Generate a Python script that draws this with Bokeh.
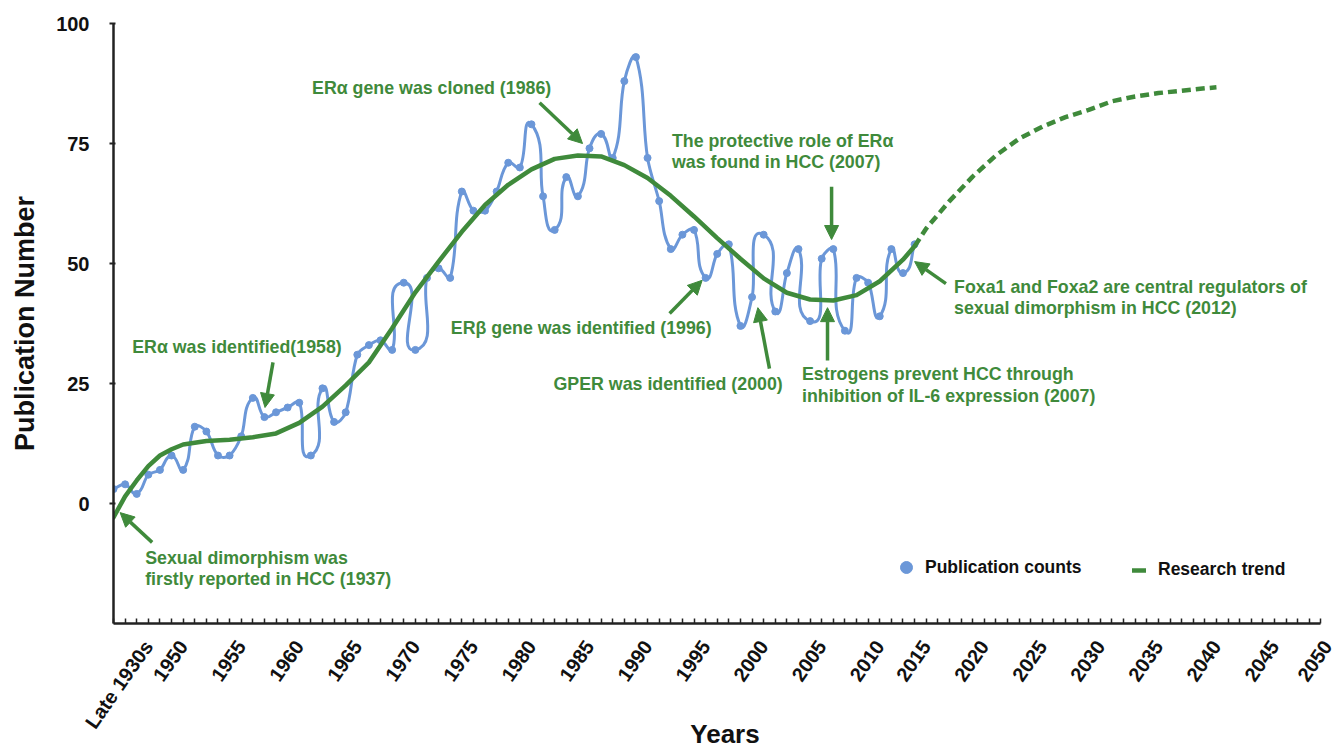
import math
from bokeh.plotting import figure
from bokeh.models import (Range1d, FixedTicker, LinearAxis, Label, Arrow, NormalHead,
                          Legend, LegendItem, ColumnDataSource)
from bokeh.embed import file_html
from bokeh.resources import INLINE

# ---------------- data ----------------
pub_index = list(range(70))
pub_counts = [3, 4, 2, 6, 7, 10, 7, 16, 15, 10,
              10, 14, 22, 18, 19, 20, 21, 10, 24, 17,
              19, 31, 33, 34, 32, 46, 32, 47, 49, 47,
              65, 61, 61, 65, 71, 70, 79, 64, 57, 68,
              64, 74, 77, 72, 88, 93, 72, 63, 53, 56,
              57, 47, 52, 54, 37, 43, 56, 40, 48, 53,
              38, 51, 53, 36, 47, 46, 39, 53, 48, 54]

trend_index = [0, 1, 2, 3, 4, 5, 6, 8, 10, 12, 14, 16, 18, 20, 22, 24, 26, 28, 30, 32,
               34, 36, 38, 40, 42, 44, 46, 48, 50, 52, 54, 56, 58, 60, 62, 64, 66, 68, 69]
trend_values = [-2.9, 1.5, 4.8, 7.8, 10.0, 11.3, 12.3, 13.0, 13.3, 13.8, 14.6, 16.8, 20.2,
                24.6, 29.4, 36.5, 44.0, 50.4, 56.6, 62.2, 66.4, 69.6, 71.8, 72.5, 72.3,
                70.5, 67.8, 64.1, 59.8, 55.3, 51.0, 46.9, 43.9, 42.5, 42.3, 43.4, 46.3,
                50.8, 53.6]

forecast_index = [69, 70, 72, 74, 76, 78, 80, 82, 84, 86, 88, 90, 92, 94, 95]
forecast_values = [53.6, 57.3, 63.0, 68.1, 72.5, 76.0, 78.5, 80.5, 82.0, 83.8, 84.8,
                   85.5, 86.0, 86.5, 86.7]

tick_labels = ["Late 1930s", "1950", "1955", "1960", "1965", "1970", "1975", "1980",
               "1985", "1990", "1995", "2000", "2005", "2010", "2015", "2020", "2025",
               "2030", "2035", "2040", "2045", "2050"]
tick_index = [0, 3, 8, 13, 18, 23, 28, 33, 38, 43, 48, 53, 58, 63, 67, 72, 77, 82, 87,
              92, 97, 102]

y_ticks = [0, 25, 50, 75, 100]

# annotations: (lines, x, first-line y, arrow x0, y0, x1, y1)
notes = [
    (["Sexual dimorphism was", "firstly reported in HCC (1937)"], 2.73, -11.25, 3.33, -8.1, 0.57, -1.9),
    (["ERα was identified(1958)"], 1.61, 32.7, 13.74, 29.4, 13.05, 20.0),
    (["ERα gene was cloned (1986)"], 17.1, 86.5, 36.7, 83.5, 40.4, 75.0),
    (["The protective role of ERα", "was found in HCC (2007)"], 48.1, 75.6, 61.85, 66.0, 61.85, 55.0),
    (["ERβ gene was identified (1996)"], 29.05, 36.5, 47.9, 39.6, 50.7, 46.5),
    (["GPER was identified (2000)"], 37.9, 24.8, 56.5, 28.1, 55.5, 40.8),
    (["Estrogens prevent HCC through", "inhibition of IL-6 expression (2007)"], 59.3, 26.9, 61.5, 29.8, 61.5, 40.8),
    (["Foxa1 and Foxa2 are central regulators of", "sexual dimorphism in HCC (2012)"], 72.4, 45.2, 71.7, 45.8, 69.0, 50.4),
]

# ---------------- style ----------------
FONT = "Liberation Sans"
BLUE = "#6b97d8"
GREEN = "#3f8a3b"
AXIS = "#222222"
LABEL_SHIFT = 3
LINE_GAP = 4.4
SX, SY = 11.61, 4.8   # px per data unit, used for isotropic smoothing


def smooth_segments(xs, ys, k=1 / 3):
    P = [(x * SX, y * SY) for x, y in zip(xs, ys)]
    n = len(P)
    d = {key: [] for key in ("x0", "y0", "x1", "y1", "cx0", "cy0", "cx1", "cy1")}
    for i in range(n - 1):
        p0 = P[max(i - 1, 0)]
        p1 = P[i]
        p2 = P[i + 1]
        p3 = P[min(i + 2, n - 1)]
        seg = math.hypot(p2[0] - p1[0], p2[1] - p1[1])
        t1 = (p2[0] - p0[0], p2[1] - p0[1])
        l1 = math.hypot(*t1) or 1.0
        t2 = (p3[0] - p1[0], p3[1] - p1[1])
        l2 = math.hypot(*t2) or 1.0
        c1 = (p1[0] + t1[0] / l1 * seg * k, p1[1] + t1[1] / l1 * seg * k)
        c2 = (p2[0] - t2[0] / l2 * seg * k, p2[1] - t2[1] / l2 * seg * k)
        d["x0"].append(p1[0] / SX); d["y0"].append(p1[1] / SY)
        d["x1"].append(p2[0] / SX); d["y1"].append(p2[1] / SY)
        d["cx0"].append(c1[0] / SX); d["cy0"].append(c1[1] / SY)
        d["cx1"].append(c2[0] / SX); d["cy1"].append(c2[1] / SY)
    return d


p = figure(width=1336, height=753, x_range=Range1d(0, 105.34), y_range=Range1d(-25, 100),
           output_backend="svg", toolbar_location=None,
           min_border_left=113, min_border_right=0, min_border_top=23, min_border_bottom=130)
p.grid.visible = False
p.outline_line_color = None
p.background_fill_color = "white"
p.border_fill_color = "white"

# blue smoothed publication curve
seg_src = ColumnDataSource(smooth_segments(pub_index, pub_counts))
p.bezier(x0="x0", y0="y0", x1="x1", y1="y1", cx0="cx0", cy0="cy0", cx1="cx1", cy1="cy1",
         source=seg_src, line_color=BLUE, line_width=3)
dots = p.scatter(pub_index, pub_counts, size=7, fill_color=BLUE, line_color=BLUE)

# trend
trend = p.line(trend_index, trend_values, line_color=GREEN, line_width=4.5, line_cap="round",
               line_join="round")
p.line(forecast_index, forecast_values, line_color=GREEN, line_width=4.5, line_dash="9 5")

# axes
xa = p.xaxis[0]
xa.ticker = FixedTicker(ticks=[], minor_ticks=list(range(0, 105)))
xa.bounds = (0, 104)
xa.axis_line_color = AXIS
xa.axis_line_width = 2.5
xa.minor_tick_in = 5
xa.minor_tick_out = 0
xa.minor_tick_line_color = AXIS
xa.minor_tick_line_width = 1.5
xa.major_tick_line_color = None
xa.major_tick_in = 0
xa.major_tick_out = 0
xa.major_label_text_font_size = "0px"
xa.major_label_standoff = 0

label_pos = [i + LABEL_SHIFT for i in tick_index]
xb = LinearAxis(ticker=FixedTicker(ticks=label_pos),
                major_label_overrides={pos: lab for pos, lab in zip(label_pos, tick_labels)})
xb.axis_line_color = None
xb.major_tick_line_color = None
xb.minor_tick_line_color = None
xb.major_tick_in = 0
xb.major_tick_out = 0
xb.major_label_orientation = 0.96
xb.major_label_text_font = FONT
xb.major_label_text_font_style = "bold"
xb.major_label_text_font_size = "20px"
xb.major_label_text_color = "#111111"
xb.major_label_standoff = 19
xb.axis_label = "Years"
xb.axis_label_text_font = FONT
xb.axis_label_text_font_style = "bold"
xb.axis_label_text_font_size = "26px"
xb.axis_label_text_color = "#111111"
xb.axis_label_standoff = -23
p.add_layout(xb, "below")

ya = p.yaxis[0]
ya.ticker = FixedTicker(ticks=y_ticks)
ya.axis_line_color = AXIS
ya.axis_line_width = 2.5
ya.major_tick_line_color = AXIS
ya.major_tick_line_width = 2
ya.major_tick_in = 2
ya.major_tick_out = 4
ya.minor_tick_line_color = None
ya.major_label_text_font = FONT
ya.major_label_text_font_style = "bold"
ya.major_label_text_font_size = "20px"
ya.major_label_text_color = "#111111"
ya.major_label_standoff = 20
ya.axis_label = "Publication Number"
ya.axis_label_text_font = FONT
ya.axis_label_text_font_style = "bold"
ya.axis_label_text_font_size = "27px"
ya.axis_label_text_color = "#111111"
ya.axis_label_standoff = 13

# annotations
for lines, tx, ty, ax0, ay0, ax1, ay1 in notes:
    for j, line in enumerate(lines):
        p.add_layout(Label(x=tx, y=ty - j * LINE_GAP, text=line, x_units="data", y_units="data",
                           text_font=FONT, text_font_style="bold", text_font_size="17.8px",
                           text_color=GREEN, text_baseline="middle", text_align="left"))
    p.add_layout(Arrow(end=NormalHead(size=14, fill_color=GREEN, line_color=GREEN, line_width=1),
                       x_start=ax0, y_start=ay0, x_end=ax1, y_end=ay1,
                       line_color=GREEN, line_width=3.5))

# legends
leg1 = Legend(items=[LegendItem(label="Publication counts", renderers=[dots])],
              location=(778, 41), orientation="horizontal", glyph_width=30, glyph_height=30,
              label_standoff=4, padding=10, margin=0, border_line_color=None,
              background_fill_alpha=0, label_text_font=FONT, label_text_font_style="bold",
              label_text_font_size="17.5px", label_text_color="#111111")
leg2 = Legend(items=[LegendItem(label="Research trend", renderers=[trend])],
              location=(1019, 43), orientation="horizontal", glyph_width=14, glyph_height=20,
              label_standoff=12, padding=10, margin=0, border_line_color=None,
              background_fill_alpha=0, label_text_font=FONT, label_text_font_style="bold",
              label_text_font_size="17.5px", label_text_color="#111111")
p.add_layout(leg1)
p.add_layout(leg2)

open("out.html", "w").write(file_html(p, INLINE))
